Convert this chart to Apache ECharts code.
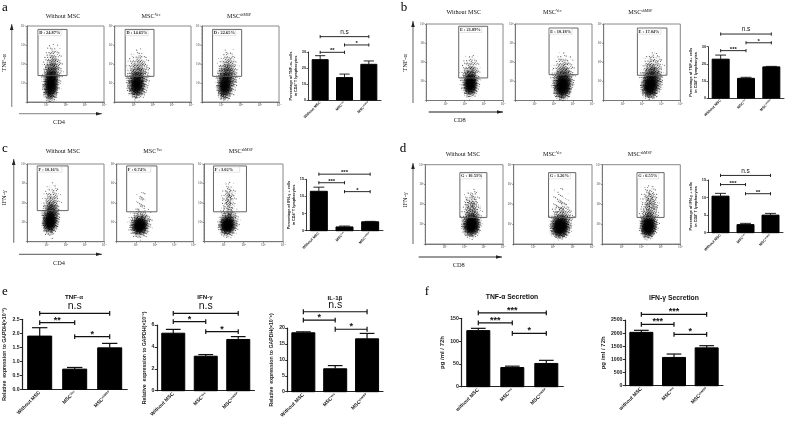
<!DOCTYPE html>
<html><head><meta charset="utf-8"><style>html,body{margin:0;padding:0;background:#fff}#c{width:786px;height:422px}</style>
<script src="https://cdn.jsdelivr.net/npm/echarts@6/dist/echarts.min.js"></script></head><body><div id="c"></div>
<script>
// ---------- data ----------
const flowTickLabels = ['', '10¹', '10²', '10³', '10⁴'];
const flowTitles = ['Without MSC', '{m|MSC}{s|Vec}', '{m|MSC}{s|shMSP}'];
const gatePercentA = ['D : 24.87%', 'D : 14.65%', 'D : 22.65%'];
const gatePercentB = ['E : 21.89%', 'E : 10.18%', 'E : 17.04%'];
const gatePercentC = ['F : 10.16%', 'F : 0.74%', 'F : 3.02%'];
const gatePercentD = ['G : 10.53%', 'G : 3.26%', 'G : 6.55%'];
// gates: xLow, yLow, xHigh, yHigh in decades
const gatesA = [[.57,1.39,2.08,3.82],[.55,1.35,2.06,3.82],[.55,1.35,2.06,3.82]];
const gatesB = [[1.69,1.18,3.2,3.88],[1.76,1.35,3.27,3.79],[1.76,1.32,3.3,3.79]];
const gatesC = [[.52,1.6,2.13,3.9],[.52,1.54,2.1,3.9],[.48,1.54,2.15,3.9]];
const gatesD = [[1.78,1.34,3.17,3.6],[1.78,1.34,3.17,3.6],[1.78,1.34,3.17,3.6]];
// clouds: centre x, centre y, radius x, radius y, darkness (decades)
const cloudsA = [
 [[1.32,1.53,.58,1.67,.35],[1.26,1.09,.5,1.2,.7],[1.23,.86,.4,.85,1]],
 [[1.23,1.44,.68,1.4,.3],[1.18,1.0,.6,.95,.6],[1.14,.86,.45,.7,.85]],
 [[1.33,1.44,.64,1.44,.35],[1.25,1.09,.55,1.05,.6],[1.16,.79,.42,.75,.9]]];
const cloudsB = [
 [[2.3,1.25,.58,1.25,.3],[2.3,.93,.5,.85,.8],[2.3,.8,.38,.6,1]],
 [[2.49,1.28,.68,1.3,.3],[2.49,.89,.6,.92,.8],[2.45,.68,.5,.7,1]],
 [[2.54,1.33,.68,1.37,.35],[2.49,.98,.6,.95,.8],[2.4,.68,.5,.65,1]]];
const cloudsC = [
 [[1.26,1.6,.54,1.5,.35],[1.21,1.26,.5,.92,.8],[1.18,.96,.45,.58,1]],
 [[1.3,2.05,.33,.72,.1],[1.25,.96,.68,.9,.35],[1.21,.86,.57,.64,.8],[1.18,.79,.45,.48,1]],
 [[1.26,2.17,.4,.98,.25],[1.26,1.05,.58,.9,.4],[1.2,.88,.54,.68,.8],[1.17,.82,.43,.46,1]]];
const cloudsD = [
 [[2.38,2.07,.46,.8,.2],[2.38,1.3,.6,1.12,.4],[2.38,.97,.54,.7,.9],[2.38,.92,.45,.55,1]],
 [[2.38,2.07,.5,.88,.1],[2.47,1.22,.68,.95,.3],[2.38,.88,.6,.7,.9],[2.38,.85,.5,.58,1]],
 [[2.45,2.24,.5,.8,.25],[2.41,1.3,.58,1.12,.4],[2.36,.92,.5,.74,.9],[2.36,.85,.45,.55,1]]];

const smallCats = ['Without MSC', '{m|MSC}{s|Vec}', '{m|MSC}{s|shMSP}'];
const lowerCats = ['without MSC', '{m|MSC}{s|Vec}', '{m|MSC}{s|shMSP}'];
const valuesA = [25.2, 14, 22.3],   topsA = [27.7, 16.2, 24.4];
const valuesB = [22.7, 11.5, 18.2], topsB = [25.1, 12.1, 18.5];
const valuesC = [11.5, 1.1, 2.6],   topsC = [12.7, 1.36, 2.73];
const valuesD = [10.4, 2.3, 5],     topsD = [11.2, 2.66, 5.5];
const valuesE1 = [1.9, .72, 1.48],  topsE1 = [2.2, .78, 1.64];
const valuesE2 = [5.25, 3.15, 4.68],topsE2 = [5.6, 3.3, 4.94];
const valuesE3 = [18.5, 7.2, 16.6], topsE3 = [18.8, 8.2, 18.3];
const valuesF1 = [123, 42, 51],     topsF1 = [128, 45, 57.8];
const valuesF2 = [2030, 1075, 1440],topsF2 = [2107, 1205, 1523];
// brackets: from bar, to bar, height, label
const bracketsA = [[0,2,39.6,'n.s'],[1,2,34.4,'*'],[0,1,29.8,'**']];
const bracketsB = [[0,2,37.4,'n.s'],[1,2,32.3,'*'],[0,1,27.7,'***']];
const bracketsC = [[0,2,16.5,'***'],[0,1,14,'***'],[1,2,11.4,'*']];
const bracketsD = [[0,2,16.3,'n.s'],[0,1,13.7,'***'],[1,2,11.1,'**']];
const bracketsE1 = [[0,2,2.71,'n.s'],[0,1,2.38,'**'],[1,2,1.88,'*']];
const bracketsE2 = [[0,2,7.07,'n.s'],[0,1,6.3,'*'],[1,2,5.4,'*']];
const bracketsE3 = [[0,2,25.1,'n.s'],[0,1,22.5,'*'],[1,2,19.6,'*']];
const bracketsF1 = [[0,2,162,'***'],[0,1,140,'***'],[1,2,117,'*']];
const bracketsF2 = [[0,2,2716,'***'],[0,1,2335,'***'],[1,2,1954,'*']];

// ---------- builders ----------
const serif = '"Liberation Serif"', sans = '"Liberation Sans"';
const grids = [], xAxes = [], yAxes = [], series = [], graphics = [];

// a stipple fill texture (a regular low-discrepancy dither, used only as a fill pattern)
const tiles = {};
function stipple(density, phase) {
  const key = Math.round(density*20)+'_'+phase;
  if (tiles[key]) return tiles[key];
  const S = 101, cv = document.createElement('canvas'); cv.width = cv.height = S;
  const g = cv.getContext('2d'); g.fillStyle = 'rgba(0,0,0,.62)';
  const n = Math.round(density*S*S);
  const ox = (phase*0.3183+.11)%1, oy = (phase*0.6171+.37)%1;
  for (let k = 1; k <= n; k++) {
    const x = (k*0.7548776662+ox) % 1, y = (k*0.5698402910+oy) % 1;
    g.beginPath(); g.arc(x*S, y*S, .6, 0, 7); g.fill();
  }
  return tiles[key] = {image: cv, repeat: 'repeat'};
}

function addGrid(box, gridExtra, x, y) {
  const i = grids.length;
  grids.push(Object.assign({left: box[0], top: box[1], width: box[2]-box[0], height: box[3]-box[1]}, gridExtra));
  xAxes.push(Object.assign({gridIndex: i}, x));
  yAxes.push(Object.assign({gridIndex: i}, y));
  return i;
}

function flowPlot(box, cloud, gate, text) {
  const axis = () => ({type:'value', min:0, max:4, interval:1, splitLine:{show:false},
    axisLine:{show:true,lineStyle:{color:'#777',width:1}},
    axisTick:{show:true,length:1.5,lineStyle:{color:'#555',width:.6}},
    minorTick:{show:true,splitNumber:5,length:.8,lineStyle:{color:'#999',width:.4}},
    axisLabel:{fontSize:3.5,margin:1.5,color:'#444',fontFamily:serif,showMinLabel:false,
      formatter:(v)=>flowTickLabels[v]}});
  const i = addGrid(box, {show:true,borderColor:'#888',borderWidth:1,backgroundColor:'#fff'}, axis(), axis());
  series.push({type:'custom', xAxisIndex:i, yAxisIndex:i, data:cloud, silent:true,
    encode:{x:0,y:1},
    renderItem(p, api){
      const cx=api.value(0), cy=api.value(1), rx=api.value(2), ry=api.value(3), dark=api.value(4);
      const c=p.coordSys, tilt=.1, kids=[];
      [1,.86,.72,.58,.44,.3].forEach((s,lay)=>{
        const pts=[];
        for(let k=0;k<40;k++){
          const t=k/40*Math.PI*2, ex=rx*s*Math.cos(t), ey=ry*s*Math.sin(t);
          const q=api.coord([cx+ex+tilt*ey*.4, cy+ey]);
          pts.push([Math.min(c.x+c.width,Math.max(c.x,q[0])), Math.min(c.y+c.height,Math.max(c.y,q[1]))]);
        }
        kids.push({type:'polygon',shape:{points:pts},style:{fill:'rgba(0,0,0,'+dark*dark*(.03+lay*.075)+')'}});
        kids.push({type:'polygon',shape:{points:pts},style:{fill:stipple(Math.min(.9,dark*(.14+lay*.07)),p.dataIndex*6+lay)}});
      });
      return {type:'group',children:kids};
    }});
  series.push({type:'custom', xAxisIndex:i, yAxisIndex:i, data:[gate], silent:true, z:5,
    encode:{x:[0,2],y:[1,3]},
    renderItem(p, api){
      const a=api.coord([api.value(0),api.value(1)]), b=api.coord([api.value(2),api.value(3)]);
      return {type:'group',children:[
        {type:'rect',shape:{x:a[0],y:b[1],width:b[0]-a[0],height:a[1]-b[1]},style:{fill:'none',stroke:'#555',lineWidth:.9}},
        {type:'rect',shape:{x:a[0]+.5,y:b[1]+.8,width:(b[0]-a[0])*.78,height:5.4},style:{fill:'#fff',stroke:'#bbb',lineWidth:.4}},
        {type:'text',style:{x:a[0]+1.2,y:b[1]+3.6,text,font:'bold 4.4px '+serif,fill:'#222',verticalAlign:'middle',align:'left'}}
      ]};
    }});
}

function barChart(box, cats, vals, tops, brackets, yMax, yStep, yName, o) {
  const i = addGrid(box, {show:false},
    {type:'category', data:cats, axisLine:{lineStyle:{color:'#222',width:o.lw}},
     axisTick:{alignWithLabel:true,length:o.tick,lineStyle:{color:'#222',width:o.lw*.8}},
     axisLabel:{interval:0,rotate:45,margin:o.margin,color:'#222',fontFamily:sans,fontWeight:'bold',fontSize:o.xf,
       rich:{m:{fontSize:o.xf,fontWeight:'bold',fontFamily:sans,color:'#222'},s:{fontSize:o.xf*.6,fontWeight:'bold',fontFamily:sans,color:'#222',verticalAlign:'top'}}}},
    {type:'value', min:0, max:yMax, interval:yStep, splitLine:{show:false},
     axisLine:{show:true,lineStyle:{color:'#222',width:o.lw}},
     axisTick:{show:true,length:o.tick,lineStyle:{color:'#222',width:o.lw*.8}},
     axisLabel:{margin:o.margin,color:'#222',fontFamily:sans,fontWeight:'bold',fontSize:o.yf,formatter:o.yFmt||undefined},
     name:yName,nameLocation:'middle',nameRotate:90,nameGap:o.nameGap,
     nameTextStyle:{color:'#222',fontFamily:sans,fontWeight:'bold',fontSize:o.nf,lineHeight:o.nf*1.25}});
  series.push({type:'bar', xAxisIndex:i, yAxisIndex:i, data:vals, barWidth:o.bar, silent:true,
    itemStyle:{color:'#000',borderColor:'#000'}});
  series.push({type:'custom', xAxisIndex:i, yAxisIndex:i, silent:true, z:3,
    data:tops.map((t,k)=>[k,vals[k],t]), encode:{x:0,y:[1,2]},
    renderItem(p, api){
      const a=api.coord([api.value(0),api.value(1)]), b=api.coord([api.value(0),api.value(2)]), w=o.bar*.32;
      const st={stroke:'#111',lineWidth:o.lw,fill:'none'};
      return {type:'group',children:[
        {type:'line',shape:{x1:a[0],y1:a[1],x2:b[0],y2:b[1]},style:st},
        {type:'line',shape:{x1:b[0]-w,y1:b[1],x2:b[0]+w,y2:b[1]},style:st}]};
    }});
  series.push({type:'custom', xAxisIndex:i, yAxisIndex:i, silent:true, z:4,
    data:brackets.map(b=>b.slice(0,3)), encode:{x:[0,1],y:2},
    renderItem(p, api){
      const a=api.coord([api.value(0),api.value(2)]), b=api.coord([api.value(1),api.value(2)]);
      const label=brackets[p.dataIndex][3], ns=label==='n.s', st={stroke:'#111',lineWidth:o.lw,fill:'none'};
      return {type:'group',children:[
        {type:'line',shape:{x1:a[0],y1:a[1],x2:b[0],y2:b[1]},style:st},
        {type:'line',shape:{x1:a[0],y1:a[1]-o.cap,x2:a[0],y2:a[1]+o.cap},style:st},
        {type:'line',shape:{x1:b[0],y1:b[1]-o.cap,x2:b[0],y2:b[1]+o.cap},style:st},
        {type:'text',style:{x:(a[0]+b[0])/2,y:a[1]+(ns?-o.cap*.6:o.cap*.9),text:label,
          font:(ns?'':'bold ')+(ns?o.nsf:o.sf)+'px '+sans,fill:'#111',align:'center',verticalAlign:'bottom'}}]};
    }});
  if(o.title) graphics.push(text(o.title[0],o.title[1],o.title[2],'bold '+o.tf+'px '+sans,'#111'));
}

function text(x,y,str,font,fill,rot) {
  return {type:'text',x,y,rotation:rot||0,silent:true,style:{text:str,font,fill:fill||'#111',align:'center',verticalAlign:'middle',
    rich:{m:{font:font,fill:'#111'},s:{font:'3.8px '+serif,fill:'#111',verticalAlign:'top'}}}};
}
function arrow(x1,y1,x2,y2,color){
  const dx=Math.sign(x2-x1), dy=Math.sign(y2-y1), L=6,W=1.8;
  graphics.push({type:'line',silent:true,shape:{x1,y1,x2,y2},style:{stroke:color,lineWidth:1.3}});
  graphics.push({type:'polygon',silent:true,shape:{points:[[x2,y2],[x2-dx*L+dy*W,y2-dy*L+dx*W],[x2-dx*L-dy*W,y2-dy*L-dx*W]]},style:{fill:'#222'}});
}

// ---------- flow panels ----------
const flowBoxes = [
 [[27,26,104,102],[114.7,26,191,102],[202,26,279,102]],
 [[426.3,24,503,100.5],[515.3,24,592,100.5],[603.7,24,680.3,100.5]],
 [[27.3,164,104,241.7],[116.7,164,193.3,241.7],[204,164,283,241.7]],
 [[425.3,164.7,503,244],[513.7,164.7,592,244],[602.3,164.7,680.3,244]]];
const flowData = [[cloudsA,gatesA,gatePercentA],[cloudsB,gatesB,gatePercentB],[cloudsC,gatesC,gatePercentC],[cloudsD,gatesD,gatePercentD]];
flowData.forEach((d,r)=>d[0].forEach((c,k)=>flowPlot(flowBoxes[r][k],c,d[1][k],d[2][k])));

const titleX = [[63,151,239],[463.7,552.3,640.3],[63,152.7,240.7],[463,552.3,639.7]], titleY=[16,12.5,151,154];
titleX.forEach((row,r)=>row.forEach((x,k)=>graphics.push(text(x,titleY[r],flowTitles[k],'6.2px '+serif))));

[['a',5,8],['b',404,8],['c',5,149],['d',403,149],['e',5,292],['f',427,292]].forEach(l=>graphics.push(text(l[1],l[2],l[0],'13px '+serif,'#000')));
[['TNF-α',4.5,63],['TNF-α',405,63],['IFN-γ',4.5,198],['IFN-γ',405,200]].forEach(l=>graphics.push(text(l[1],l[2],l[0],'6.4px '+serif,'#222',Math.PI/2)));
[['CD4',59,122],['CD8',459.7,120],['CD4',59,263],['CD8',458.7,265]].forEach(l=>graphics.push(text(l[1],l[2],l[0],'6.4px '+serif,'#222')));
arrow(11.7,107,11.7,24,'#999'); arrow(19,113.7,102,113.7,'#999');
arrow(413,103,413,21,'#888'); arrow(428.7,112,503,112,'#666');
arrow(13.7,242.7,13.7,159,'#888'); arrow(19,254.3,102,254.3,'#777');
arrow(413,244,413,163,'#888'); arrow(418.7,257,502,257,'#777');

// ---------- bars ----------
const oneDecimal = v=>v.toFixed(1), plain = v=>String(v);
const small = {lw:.9,tick:1.5,margin:2,xf:3.6,yf:3.8,nf:3.8,nameGap:8,bar:16,cap:1.6,nsf:6.5,sf:6,yFmt:plain};
const big = {lw:1.2,tick:2.2,margin:2.5,xf:5,yf:5.2,nf:5.2,nameGap:12,bar:23,cap:2.4,nsf:10.5,sf:9,tf:6.2,yFmt:plain};
barChart([308,52,381,100],smallCats,valuesA,topsA,bracketsA,30,10,'Percentage of TNF-α+ cells\nin CD4⁺ T lymphocytes',small);
barChart([708,46.7,784,98],smallCats,valuesB,topsB,bracketsB,30,10,'Percentage of TNF-α+ cells\nin CD8⁺ T lymphocytes',Object.assign({},small,{bar:17}));
barChart([306,179.3,383,230.7],smallCats,valuesC,topsC,bracketsC,15,5,'Percentage of IFN-γ + cells\nin CD4⁺ T lymphocytes',Object.assign({},small,{bar:17}));
barChart([708,180,783,232.7],smallCats,valuesD,topsD,bracketsD,15,5,'Percentage of IFN-γ + cells\nin CD8⁺ T lymphocytes',Object.assign({},small,{bar:17}));
barChart([22.2,319.3,127.2,389.3],smallCats,valuesE1,topsE1,bracketsE1,2.5,.5,'Relative  expression to GAPDH(×10⁻²)',Object.assign({},big,{bar:24,nameGap:14,title:[74,297,'TNF-α'],yFmt:oneDecimal}));
barChart([157,325,254.5,390.7],smallCats,valuesE2,topsE2,bracketsE2,6,2,'Relative  expression to GAPDH(×10⁻²)',Object.assign({},big,{nameGap:8,title:[205,297,'IFN-γ']}));
barChart([287.4,328,383,391.7],smallCats,valuesE3,topsE3,bracketsE3,20,5,'Relative  expression to GAPDH(×10⁻⁶)',Object.assign({},big,{nameGap:10,title:[335,298,'IL-1β']}));
barChart([461.3,318.3,563.3,386.7],lowerCats,valuesF1,topsF1,bracketsF1,150,50,'pg /ml / 72h',Object.assign({},big,{nf:6,nameGap:15,title:[512,297,'TNF-α Secretion'],tf:6.8}));
barChart([625,320,723,385.7],lowerCats,valuesF2,topsF2,bracketsF2,2500,500,'pg /ml / 72h',Object.assign({},big,{nf:6,nameGap:18,title:[674,298,'IFN-γ Secretion'],tf:6.8}));

const chart = echarts.init(document.getElementById('c'), null, {renderer:'canvas',width:786,height:422});
chart.setOption({animation:false,backgroundColor:'#fff',grid:grids,xAxis:xAxes,yAxis:yAxes,series,graphic:graphics});
</script></body></html>
